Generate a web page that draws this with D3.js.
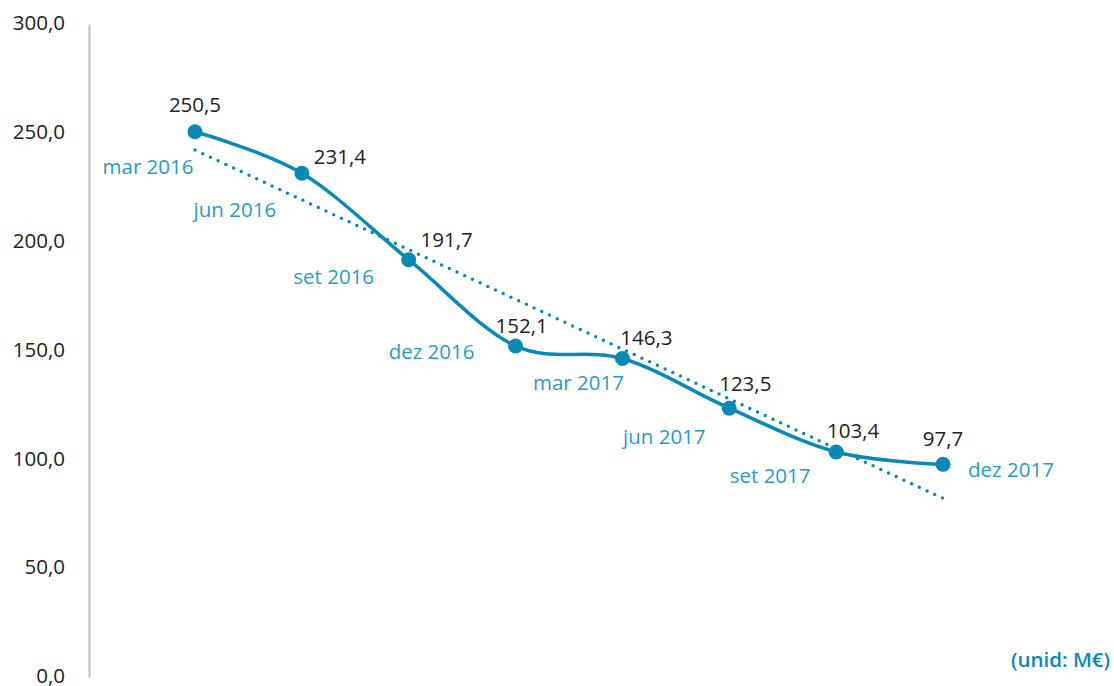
<!DOCTYPE html>
<html>
<head>
<meta charset="utf-8">
<script src="https://cdn.jsdelivr.net/npm/d3@7"></script>
<style>
  body { margin: 0; background: #fff; }
  text { font-family: "Open Sans", "Noto Sans", sans-serif; }
</style>
</head>
<body>
<div class="chart"></div>
<script>
// data
var periods = ["mar 2016", "jun 2016", "set 2016", "dez 2016", "mar 2017", "jun 2017", "set 2017", "dez 2017"];
var values = [250.5, 231.4, 191.7, 152.1, 146.3, 123.5, 103.4, 97.7];
var yTicks = [0, 50, 100, 150, 200, 250, 300];
var unitLabel = "(unid: M€)";

// label nudges (pixels), Excel-like manual placement
var valueDx = [0, 38, 38, 6, 24, 16, 17, 0];
var valueDy = [-27, -16, -20, -20, -21, -24, -21, -26];
var catDx = [-47, -67, -75, -84, -44, -65, -66, 68];
var catDy = [35, 37, 17, 6, 24, 29, 24, 5];

var width = 1114, height = 686;
var blue = "#0a89b5", labelBlue = "#2b9ac3";

var svg = d3.select(".chart").append("svg")
    .attr("width", width)
    .attr("height", height);

var x = d3.scalePoint().domain(periods).range([195, 943]);
var y = d3.scaleLinear().domain([0, 300]).range([677, 24]);

// y axis
var yAxis = d3.axisLeft(y).tickValues(yTicks).tickSize(0).tickPadding(24)
    .tickFormat(function(d) { return d3.format(".1f")(d).replace(".", ","); });
var gy = svg.append("g").attr("transform", "translate(89,0)").call(yAxis);
gy.select(".domain").attr("stroke", "#bfbfbf").attr("stroke-width", 2);
gy.selectAll("text").attr("fill", "#222").attr("dy", "0.28em").style("font-size", "20.5px")
    .style("font-family", "'Open Sans', 'Noto Sans', sans-serif");

// trend line (linear least squares)
var n = values.length, mx = (n - 1) / 2, my = d3.mean(values);
var sxy = d3.sum(values, function(v, i) { return (i - mx) * (v - my); });
var sxx = d3.sum(values, function(v, i) { return (i - mx) * (i - mx); });
var slope = sxy / sxx, icpt = my - slope * mx;
svg.append("line")
    .attr("x1", x(periods[0])).attr("y1", y(icpt))
    .attr("x2", x(periods[n - 1])).attr("y2", y(icpt + slope * (n - 1)))
    .attr("stroke", blue).attr("stroke-width", 3.5)
    .attr("stroke-linecap", "round").attr("stroke-dasharray", "0 8.5");

// smoothed series line
var line = d3.line()
    .x(function(d, i) { return x(periods[i]); })
    .y(function(d) { return y(d); })
    .curve(d3.curveCardinal.tension(0));
svg.append("path").datum(values)
    .attr("d", line)
    .attr("fill", "none").attr("stroke", blue).attr("stroke-width", 3.5);

svg.selectAll(".dot").data(values).enter().append("circle")
    .attr("class", "dot")
    .attr("cx", function(d, i) { return x(periods[i]); })
    .attr("cy", function(d) { return y(d); })
    .attr("r", 7.5)
    .attr("fill", blue);

// value labels
svg.selectAll(".vlab").data(values).enter().append("text")
    .attr("class", "vlab")
    .attr("x", function(d, i) { return x(periods[i]) + valueDx[i]; })
    .attr("y", function(d, i) { return y(d) + valueDy[i]; })
    .attr("text-anchor", "middle").attr("dy", "0.35em")
    .attr("fill", "#222").style("font-size", "20.5px")
    .text(function(d) { return d3.format(".1f")(d).replace(".", ","); });

// category labels
svg.selectAll(".clab").data(periods).enter().append("text")
    .attr("class", "clab")
    .attr("x", function(d, i) { return x(d) + catDx[i]; })
    .attr("y", function(d, i) { return y(values[i]) + catDy[i]; })
    .attr("text-anchor", "middle").attr("dy", "0.35em")
    .attr("fill", labelBlue).style("font-size", "20.5px")
    .text(function(d) { return d; });

svg.append("text")
    .attr("x", 1110).attr("y", 660)
    .attr("text-anchor", "end").attr("dy", "0.35em")
    .attr("fill", blue).style("font-size", "20.5px").style("font-weight", 600)
    .text(unitLabel);
</script>
</body>
</html>
